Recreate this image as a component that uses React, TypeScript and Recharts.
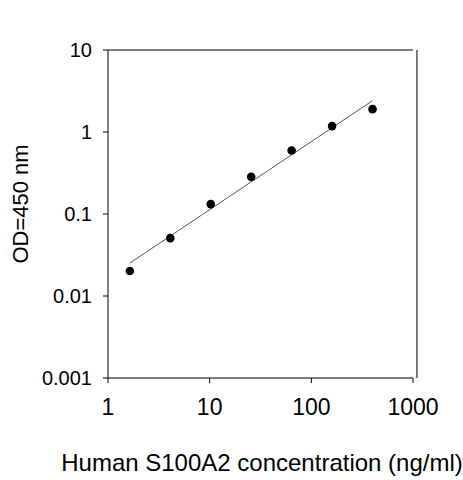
import { ScatterChart, Scatter, XAxis, YAxis, ReferenceLine } from "recharts"

// standard curve
const concentration = [1.64, 4.1, 10.24, 25.6, 64, 160, 400]
const od = [0.0202, 0.0508, 0.132, 0.284, 0.594, 1.18, 1.9]

// fitted line end points
const fitX = [1.64, 400]
const fitY = [0.0252, 2.41]

const xTicks = [1, 10, 100, 1000]
const yTicks = [0.001, 0.01, 0.1, 1, 10]

const points = concentration.map((x, i) => ({ x, y: od[i] }))
const fit = fitX.map((x, i) => ({ x, y: fitY[i] }))

const font = "'Liberation Sans', Arial, sans-serif"

export default function App() {
  return (
    <div style={{ position: "absolute", left: 0, top: 0, background: "#fff" }}>
      <ScatterChart width={463} height={480} margin={{ top: 50, right: 50, bottom: 0, left: 0 }}>
        <XAxis
          type="number"
          dataKey="x"
          scale="log"
          domain={[1, 1000]}
          ticks={xTicks}
          allowDataOverflow
          height={102}
          stroke="#000"
          tickSize={5}
          tickMargin={16}
          tick={{ fill: "#000", fontSize: 23, fontFamily: font }}
          label={{
            content: () => (
              <text x={262} y={462} textAnchor="middle" dominantBaseline="central" fontSize={24} fontFamily={font} fill="#000">
                Human S100A2 concentration (ng/ml)
              </text>
            ),
          }}
        />
        <YAxis
          type="number"
          dataKey="y"
          scale="log"
          domain={[0.001, 10]}
          ticks={yTicks}
          allowDataOverflow
          width={108}
          stroke="#000"
          tickSize={5}
          tickMargin={11}
          tick={{ fill: "#000", fontSize: 20, fontFamily: font }}
          tickFormatter={(v) => String(v)}
          label={{
            content: () => (
              <text x={20} y={204} transform="rotate(-90 20 204)" textAnchor="middle" dominantBaseline="central" fontSize={22} fontFamily={font} fill="#000">
                OD=450 nm
              </text>
            ),
          }}
        />
        <ReferenceLine y={10} stroke="#000" />
        <ReferenceLine
          segment={[{ x: 1094, y: 0.001 }, { x: 1094, y: 10 }]}
          stroke="#000"
          ifOverflow="visible"
        />
        <Scatter
          data={fit}
          line={{ stroke: "#555", strokeWidth: 1 }}
          shape={() => <g />}
          isAnimationActive={false}
        />
        <Scatter
          data={points}
          fill="#000"
          shape={(p: any) => <circle cx={p.cx} cy={p.cy} r={4.3} fill="#000" />}
          isAnimationActive={false}
        />
      </ScatterChart>
    </div>
  )
}
